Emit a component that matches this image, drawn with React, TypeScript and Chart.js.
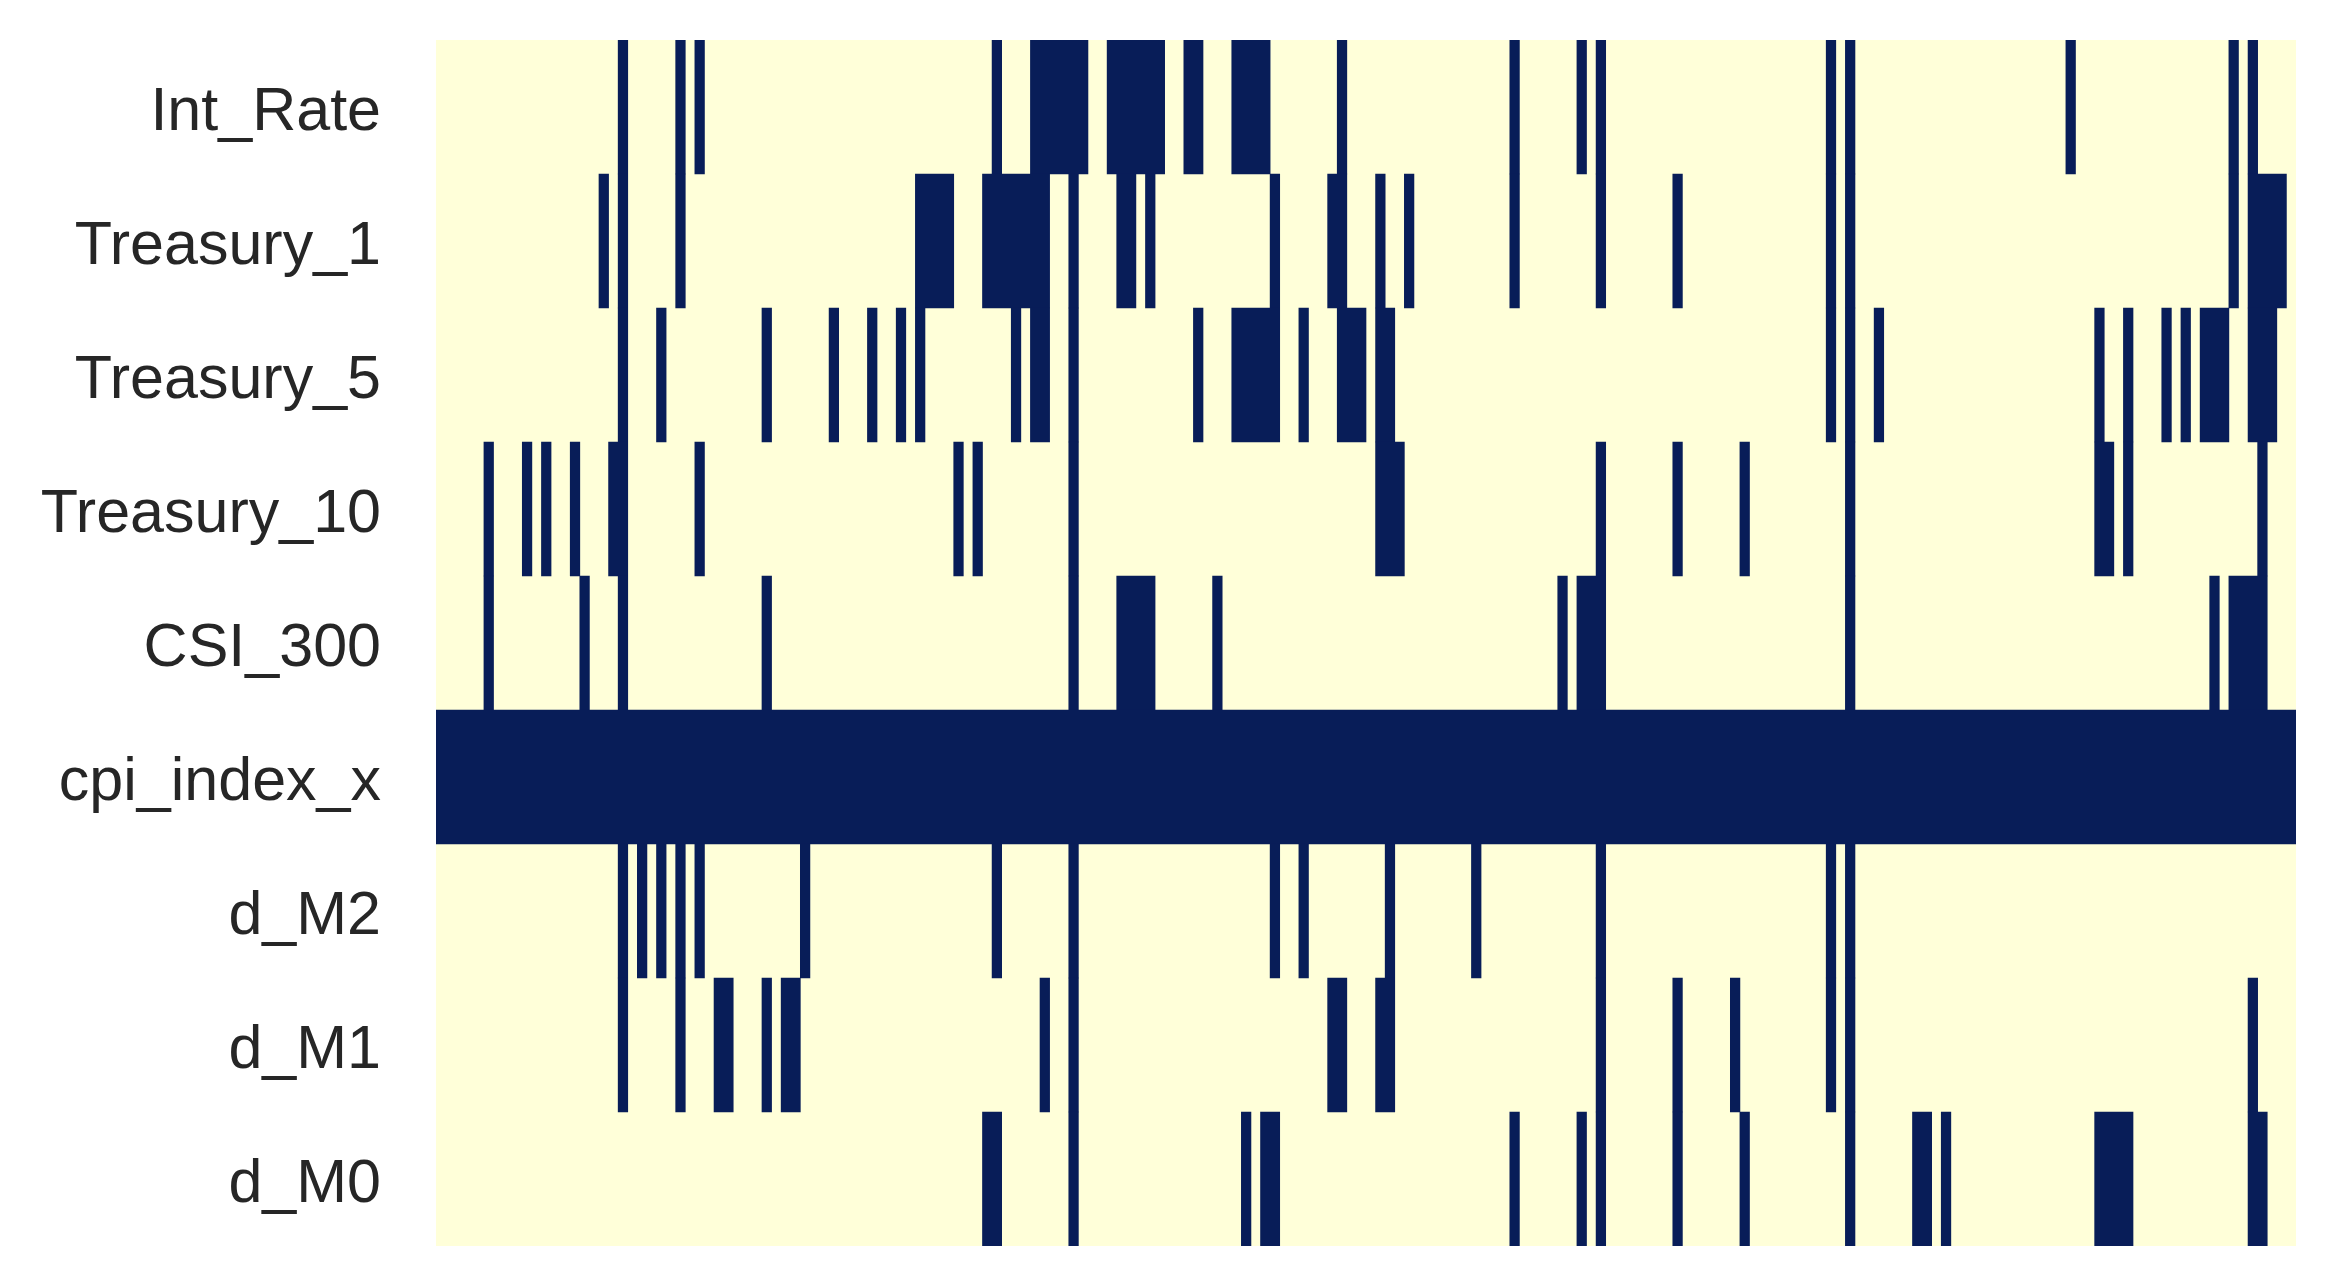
import React, { useEffect, useRef } from 'react';
import { Chart, registerables } from 'chart.js';

Chart.register(...registerables);

// Row (variable) names, top to bottom
const rowLabels = ['Int_Rate', 'Treasury_1', 'Treasury_5', 'Treasury_10', 'CSI_300', 'cpi_index_x', 'd_M2', 'd_M1', 'd_M0'];

// Number of observations (columns)
const observationCount = 194;

// Missing-value runs per variable: [first index, last index] inclusive
const missingIntRate: [number, number][] = [[19, 19], [25, 25], [27, 27], [58, 58], [62, 67], [70, 75], [78, 79], [83, 86], [94, 94], [112, 112], [119, 119], [121, 121], [145, 145], [147, 147], [170, 170], [187, 187], [189, 189]];
const missingTreasury1: [number, number][] = [[17, 17], [19, 19], [25, 25], [50, 53], [57, 63], [66, 66], [71, 72], [74, 74], [87, 87], [93, 94], [98, 98], [101, 101], [112, 112], [121, 121], [129, 129], [145, 145], [147, 147], [187, 187], [189, 192]];
const missingTreasury5: [number, number][] = [[19, 19], [23, 23], [34, 34], [41, 41], [45, 45], [48, 48], [50, 50], [60, 60], [62, 63], [66, 66], [79, 79], [83, 87], [90, 90], [94, 96], [98, 99], [145, 145], [147, 147], [150, 150], [173, 173], [176, 176], [180, 180], [182, 182], [184, 186], [189, 191]];
const missingTreasury10: [number, number][] = [[5, 5], [9, 9], [11, 11], [14, 14], [18, 19], [27, 27], [54, 54], [56, 56], [66, 66], [98, 100], [121, 121], [129, 129], [136, 136], [147, 147], [173, 174], [176, 176], [190, 190]];
const missingCSI300: [number, number][] = [[5, 5], [15, 15], [19, 19], [34, 34], [66, 66], [71, 74], [81, 81], [117, 117], [119, 121], [147, 147], [185, 185], [187, 190]];
const missingCpiIndexX: [number, number][] = [[0, 193]];
const missingDM2: [number, number][] = [[19, 19], [21, 21], [23, 23], [25, 25], [27, 27], [38, 38], [58, 58], [66, 66], [87, 87], [90, 90], [99, 99], [108, 108], [121, 121], [145, 145], [147, 147]];
const missingDM1: [number, number][] = [[19, 19], [25, 25], [29, 30], [34, 34], [36, 37], [63, 63], [66, 66], [93, 94], [98, 99], [121, 121], [129, 129], [135, 135], [145, 145], [147, 147], [189, 189]];
const missingDM0: [number, number][] = [[57, 58], [66, 66], [84, 84], [86, 87], [112, 112], [119, 119], [121, 121], [129, 129], [136, 136], [147, 147], [154, 155], [157, 157], [173, 176], [189, 190]];

const missingByRow = [missingIntRate, missingTreasury1, missingTreasury5, missingTreasury10, missingCSI300, missingCpiIndexX, missingDM2, missingDM1, missingDM0];

const PRESENT_COLOR = '#ffffd9';
const MISSING_COLOR = '#081d58';

const areaFill = {
  id: 'areaFill',
  beforeDatasetsDraw(chart: any) {
    const { ctx, chartArea } = chart;
    ctx.save();
    ctx.fillStyle = PRESENT_COLOR;
    ctx.fillRect(chartArea.left, chartArea.top, chartArea.right - chartArea.left, chartArea.bottom - chartArea.top);
    ctx.restore();
  },
};

export default function App() {
  const canvasRef = useRef<HTMLCanvasElement>(null);

  useEffect(() => {
    if (!canvasRef.current) return;
    const presentCells = rowLabels.map((label) => ({ y: label, x: [0, observationCount] }));
    const missingCells: any[] = [];
    rowLabels.forEach((label, r) => {
      missingByRow[r].forEach(([a, b]) => missingCells.push({ y: label, x: [a, b + 1] }));
    });

    const chart = new Chart(canvasRef.current, {
      type: 'bar',
      data: {
        labels: rowLabels,
        datasets: [
          {
            label: 'present',
            data: presentCells as any,
            backgroundColor: PRESENT_COLOR,
            borderWidth: 0,
            barPercentage: 1,
            categoryPercentage: 1,
            order: 2,
          },
          {
            label: 'missing',
            data: missingCells as any,
            backgroundColor: MISSING_COLOR,
            borderWidth: 0,
            barPercentage: 1,
            categoryPercentage: 1,
            order: 1,
          },
        ],
      },
      options: {
        indexAxis: 'y',
        animation: false,
        responsive: false,
        devicePixelRatio: 1,
        layout: { padding: { left: 0, top: 40, right: 39, bottom: 42 } },
        plugins: {
          legend: { display: false },
          tooltip: { enabled: false },
        },
        scales: {
          x: {
            type: 'linear',
            min: 0,
            max: observationCount,
            display: false,
            stacked: false,
          },
          y: {
            type: 'category',
            stacked: true,
            position: 'left',
            grid: { display: false, drawTicks: false },
            border: { display: false },
            ticks: {
              autoSkip: false,
              padding: 55,
              labelOffset: 6,
              color: '#262626',
              font: { family: 'Arial, "Liberation Sans", sans-serif', size: 61 },
            },
            afterFit: (scale: any) => {
              scale.width = 436;
              scale.paddingTop = 0;
              scale.paddingBottom = 0;
            },
          },
        },
      },
      plugins: [areaFill],
    });

    return () => chart.destroy();
  }, []);

  return (
    <div style={{ position: 'absolute', left: 0, top: 0, width: 2335, height: 1288, background: '#ffffff' }}>
      <canvas ref={canvasRef} width={2335} height={1288} style={{ display: 'block', width: 2335, height: 1288 }} />
    </div>
  );
}
